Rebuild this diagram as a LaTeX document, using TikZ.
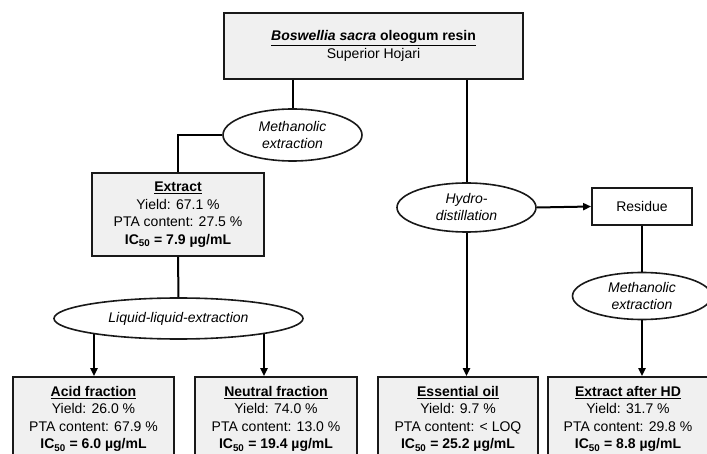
\documentclass[tikz,border=0pt]{standalone}
\usepackage{fontspec}
\setmainfont{Liberation Sans}
\usepackage{tikz}
\usetikzlibrary{shapes,arrows.meta,positioning,backgrounds}

\begin{document}
\begin{tikzpicture}[x=1pt, y=1pt,
    box/.style={rectangle, draw=black!90, line width=1.8pt, fill=gray!12, minimum width=160pt, minimum height=84pt, inner sep=0pt, align=center, font=\fontsize{14}{17.5}\selectfont},
    proc/.style={ellipse, draw=black!90, line width=1.6pt, fill=white, minimum width=139pt, minimum height=50pt, inner sep=0pt, align=center, font=\fontsize{14}{17}\selectfont\itshape},
    link/.style={line width=2pt},
    arrow/.style={line width=2pt, -{Triangle[length=8pt,width=7pt]}}]

    \useasboundingbox (0,0) rectangle (707,-454);
    \clip (0,0) rectangle (707,-454);

    % Resin
    \node[box, minimum width=299pt, minimum height=66pt] (resin) at (373.5,-46)
        {\underline{\textbf{\textit{Boswellia sacra} oleogum resin}}\\Superior Hojari};

    % Methanolic extraction of the resin
    \node[proc, minimum height=52pt] (meth) at (292.5,-135) {Methanolic\\extraction};

    % Extract
    \node[box, minimum width=172pt, minimum height=83pt] (extract) at (178,-214.5)
        {\underline{\textbf{Extract}}\\Yield: 67.1 \%\\PTA content: 27.5 \%\\\textbf{IC\textsubscript{50} = 7.9 µg/mL}};

    % Liquid-liquid-extraction
    \node[proc, minimum width=249pt, minimum height=41pt] (lle) at (178.5,-318.5) {Liquid-liquid-extraction};
    \coordinate (acidin) at (94,-318.5);
    \coordinate (neutralin) at (264,-318.5);

    % Fractions
    \node[box, minimum width=161pt] (acid) at (93.5,-419)
        {\underline{\textbf{Acid fraction}}\\Yield: 26.0 \%\\PTA content: 67.9 \%\\\textbf{IC\textsubscript{50} = 6.0 µg/mL}};
    \node[box, minimum width=162pt] (neutral) at (276,-419)
        {\underline{\textbf{Neutral fraction}}\\Yield: 74.0 \%\\PTA content: 13.0 \%\\\textbf{IC\textsubscript{50} = 19.4 µg/mL}};

    % Hydrodistillation
    \node[proc, minimum height=49pt] (hydro) at (466.5,-207.5) {Hydro-\\distillation};

    % Residue
    \node[rectangle, draw=black!90, line width=1.8pt, fill=white, minimum width=100pt, minimum height=37pt, inner sep=0pt, font=\fontsize{14}{17}\selectfont] (residue) at (642,-206.5) {Residue};

    % Methanolic extraction of the residue
    \node[proc, minimum height=47pt] (methhd) at (642,-296) {Methanolic\\extraction};

    % Essential oil and extract after HD
    \node[box] (oil) at (458,-419)
        {\underline{\textbf{Essential oil}}\\Yield: 9.7 \%\\PTA content: < LOQ\\\textbf{IC\textsubscript{50} = 25.2 µg/mL}};
    \node[box] (hd) at (628,-419)
        {\underline{\textbf{Extract after HD}}\\Yield: 31.7 \%\\PTA content: 29.8 \%\\\textbf{IC\textsubscript{50} = 8.8 µg/mL}};

    % Connectors
    \draw[link] (meth.north |- resin.south) -- (meth.north);
    \draw[link] (meth.west) -| (extract.north);
    \draw[link] (extract.south) -- (lle.north);
    \begin{scope}[on background layer]
        \draw[arrow] (acidin) -- (acidin |- acid.north);
        \draw[arrow] (neutralin) -- (neutralin |- neutral.north);
    \end{scope}
    \draw[link] (hydro.north |- resin.south) -- (hydro.north);
    \draw[arrow] (hydro.south) -- (hydro.south |- oil.north);
    \draw[arrow] (hydro.east) -- (residue.west);
    \draw[link] (residue.south) -- (methhd.north);
    \draw[arrow] (methhd.south) -- (methhd.south |- hd.north);

\end{tikzpicture}
\end{document}
